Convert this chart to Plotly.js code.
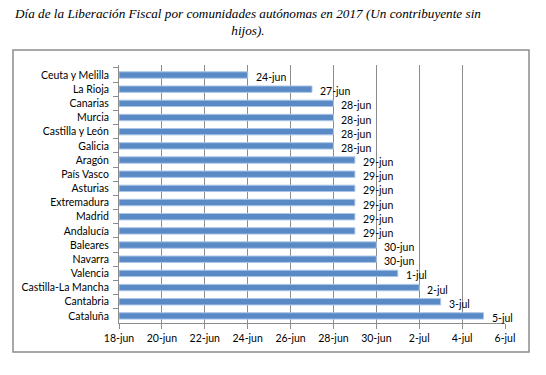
<!DOCTYPE html>
<html>
<head>
<meta charset="utf-8">
<script src="https://cdn.plot.ly/plotly-3.0.1.min.js"></script>
<style>html,body{margin:0;padding:0;background:#fff;}#chart{width:546px;height:375px;}</style>
</head>
<body>
<div id="chart"></div>
<script>
const regions = ["Ceuta y Melilla","La Rioja","Canarias","Murcia","Castilla y León","Galicia","Aragón","País Vasco","Asturias","Extremadura","Madrid","Andalucía","Baleares","Navarra","Valencia","Castilla-La Mancha","Cantabria","Cataluña"];
const dates = ["2017-06-24","2017-06-27","2017-06-28","2017-06-28","2017-06-28","2017-06-28","2017-06-29","2017-06-29","2017-06-29","2017-06-29","2017-06-29","2017-06-29","2017-06-30","2017-06-30","2017-07-01","2017-07-02","2017-07-03","2017-07-05"];
const tickDates = ["2017-06-18","2017-06-20","2017-06-22","2017-06-24","2017-06-26","2017-06-28","2017-06-30","2017-07-02","2017-07-04","2017-07-06"];
const months = ["ene","feb","mar","abr","may","jun","jul","ago","sep","oct","nov","dic"];
const titleText = 'Día de la Liberación Fiscal por comunidades autónomas en 2017 (Un contribuyente sin<br>hijos).';

const DAY = 86400000;
const origin = Date.UTC(2017,5,18);
function dayNum(s){ const p=s.split('-').map(Number); return (Date.UTC(p[0],p[1]-1,p[2])-origin)/DAY; }
function fmt(s){ const p=s.split('-').map(Number); return p[2]+'-'+months[p[1]-1]; }

const xs = dates.map(dayNum);
const labels = dates.map(fmt);
const tickvals = tickDates.map(dayNum);
const ticktext = tickDates.map(fmt);

const L=119, R=505, T=65, B=323;
const W=546, H=375;
const pw=R-L, ph=B-T;
function px(x){return (x-L)/pw;}
function py(y){return (B-y)/ph;}

const font = "Lato, 'Open Sans', sans-serif";

const labelAnns = regions.map((r,i)=>({
  x: xs[i], y: r, xref:'x', yref:'y', text: labels[i], showarrow:false,
  xanchor:'left', yanchor:'middle', xshift:6, yshift:-2,
  font:{family:font, size:10.5, color:'#000'}
}));

Plotly.newPlot('chart', [{
  type:'bar', orientation:'h',
  y: regions, x: xs,
  marker:{color:'#5A8AC6', line:{color:'#A9C5E8', width:1}},
  width:0.45,
  hoverinfo:'skip'
}], {
  width:W, height:H,
  margin:{l:L, r:W-R, t:T, b:H-B},
  paper_bgcolor:'#fff', plot_bgcolor:'#fff',
  showlegend:false,
  annotations:[{
    text:titleText, showarrow:false,
    font:{family:"'Liberation Serif', serif", size:13.2, color:'#000', style:'italic'},
    xref:'paper', x:px(247), xanchor:'center',
    yref:'paper', y:py(4), yanchor:'top', align:'center'
  }].concat(labelAnns),
  xaxis:{
    range:[0,18], tickvals:tickvals, ticktext:ticktext,
    showgrid:true, gridcolor:'#8c8c8c', gridwidth:1,
    showline:true, linecolor:'#8c8c8c', linewidth:1,
    ticks:'outside', ticklen:5, tickcolor:'#8c8c8c',
    tickfont:{family:font, size:10.5, color:'#000'},
    zeroline:false, fixedrange:true
  },
  yaxis:{
    autorange:'reversed', type:'category',
    showline:true, linecolor:'#8c8c8c', linewidth:1,
    ticks:'outside', ticklen:5, tickcolor:'#8c8c8c', tickson:'boundaries',
    tickfont:{family:font, size:10.5, color:'#000'},
    showgrid:false, fixedrange:true, ticklabelstandoff:7
  },
  shapes:[{
    type:'rect', xref:'paper', yref:'paper',
    x0:px(13), x1:px(529), y0:py(352), y1:py(50),
    line:{color:'#8c8c8c', width:1.5}, fillcolor:'rgba(0,0,0,0)', layer:'below'
  }]
}, {staticPlot:true});
</script>
</body>
</html>
